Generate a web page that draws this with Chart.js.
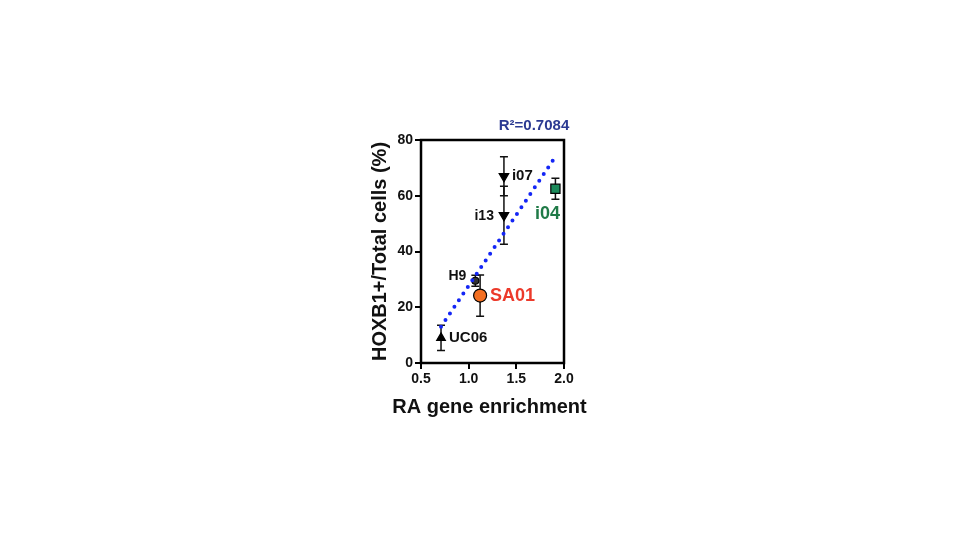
<!DOCTYPE html>
<html>
<head>
<meta charset="utf-8">
<script src="https://cdn.jsdelivr.net/npm/chart.js@4.4.1/dist/chart.umd.min.js"></script>
<style>
  html, body { margin: 0; padding: 0; background: #fff; }
  #wrap { width: 960px; height: 540px; }
</style>
</head>
<body>
<div id="wrap"><canvas id="c" width="960" height="540"></canvas></div>
<script>
// cell lines and their values
const cellLines = ['UC06', 'H9', 'SA01', 'i13', 'i07', 'i04'];
const enrichment = [0.71, 1.07, 1.12, 1.37, 1.37, 1.91];
const hoxb1 = [9, 29.5, 24.2, 53, 67, 62.5];
const hoxb1Err = [4.5, 2, 7.4, 10.4, 7, 3.8];

// linear fit end points
const fitX = [0.71, 1.91];
const fitY = [13, 74];
const rSquared = '0.7084';

const xTicks = [0.5, 1.0, 1.5, 2.0];
const yTicks = [0, 20, 40, 60, 80];

// look of each point / label (not data)
const markerStyle = ['triangle', 'circle', 'circle', 'triangle', 'triangle', 'rect'];
const markerRot = [0, 0, 0, 180, 180, 0];
const markerSize = [5, 3.5, 6.5, 5.5, 5.5, 6.5];
const markerFill = ['#000', '#333', '#f36f21', '#000', '#000', '#1b8a5a'];
const labelColor = ['#111', '#111', '#ec3a2b', '#111', '#111', '#1f7a47'];
const labelSize = [15, 14, 18, 14, 15, 18];
const labelAlign = ['left', 'right', 'left', 'right', 'left', 'center'];
const labelDx = [8, -9, 10, -10, 8, -8];
const labelDy = [0, -5, 0, 1, 0, 25];

const FONT = '"Liberation Sans", Arial, Helvetica, sans-serif';

const extras = {
  id: 'extras',
  beforeDatasetsDraw(chart) {
    const { ctx, scales: { x, y } } = chart;
    ctx.save();
    ctx.strokeStyle = '#111';
    ctx.lineWidth = 1.5;
    enrichment.forEach((v, i) => {
      const px = x.getPixelForValue(v);
      const top = y.getPixelForValue(hoxb1[i] + hoxb1Err[i]);
      const bot = y.getPixelForValue(hoxb1[i] - hoxb1Err[i]);
      ctx.beginPath();
      ctx.moveTo(px, top); ctx.lineTo(px, bot);
      ctx.moveTo(px - 4, top); ctx.lineTo(px + 4, top);
      ctx.moveTo(px - 4, bot); ctx.lineTo(px + 4, bot);
      ctx.stroke();
    });
    ctx.restore();
  },
  afterDraw(chart) {
    const { ctx, chartArea: a, scales: { x, y } } = chart;
    ctx.save();
    ctx.strokeStyle = '#000';
    ctx.lineWidth = 2.5;
    ctx.strokeRect(a.left, a.top, a.right - a.left, a.bottom - a.top);

    ctx.textBaseline = 'middle';
    cellLines.forEach((name, i) => {
      ctx.font = 'bold ' + labelSize[i] + 'px ' + FONT;
      ctx.fillStyle = labelColor[i];
      ctx.textAlign = labelAlign[i];
      ctx.fillText(name,
        x.getPixelForValue(enrichment[i]) + labelDx[i],
        y.getPixelForValue(hoxb1[i]) + labelDy[i]);
    });

    // x axis title, drawn here so it is not squeezed to the narrow plot width
    ctx.font = 'bold 20px ' + FONT;
    ctx.fillStyle = '#111';
    ctx.textAlign = 'center';
    ctx.fillText('RA gene enrichment', (a.left + a.right) / 2 - 3, a.bottom + 44);

    ctx.font = 'bold 15px ' + FONT;
    ctx.fillStyle = '#2b3a92';
    ctx.fillText('R\u00b2=' + rSquared, a.right - 30, a.top - 14);
    ctx.restore();
  }
};

new Chart(document.getElementById('c').getContext('2d'), {
  type: 'scatter',
  data: {
    datasets: [{
      type: 'line',
      data: fitX.map((v, i) => ({ x: v, y: fitY[i] })),
      borderColor: '#1426f5',
      borderWidth: 4,
      borderDash: [0, 8],
      borderCapStyle: 'round',
      pointRadius: 0,
      fill: false
    }, {
      data: enrichment.map((v, i) => ({ x: v, y: hoxb1[i] })),
      pointStyle: markerStyle,
      rotation: markerRot,
      pointRadius: markerSize,
      backgroundColor: markerFill,
      borderColor: '#000',
      borderWidth: 1.2
    }]
  },
  options: {
    responsive: false,
    animation: false,
    layout: { padding: { left: 361, right: 396, top: 140, bottom: 122 } },
    plugins: { legend: { display: false }, tooltip: { enabled: false } },
    scales: {
      x: {
        type: 'linear',
        min: 0.5, max: 2.0,
        afterFit: s => { s.height = 55; },
        afterBuildTicks: s => { s.ticks = xTicks.map(v => ({ value: v })); },
        border: { display: false },
        grid: { drawOnChartArea: false, drawTicks: true, tickLength: 6, color: '#000', lineWidth: 2 },
        ticks: { color: '#111', padding: 2, font: { family: FONT, size: 14, weight: 'bold' }, callback: v => v.toFixed(1) }
      },
      y: {
        type: 'linear',
        min: 0, max: 80,
        afterFit: s => { s.width = 60; },
        afterBuildTicks: s => { s.ticks = yTicks.map(v => ({ value: v })); },
        border: { display: false },
        grid: { drawOnChartArea: false, drawTicks: true, tickLength: 6, color: '#000', lineWidth: 2 },
        ticks: { color: '#111', padding: 2, font: { family: FONT, size: 14, weight: 'bold' } },
        title: { display: true, text: 'HOXB1+/Total cells (%)', color: '#111', padding: { top: 7, bottom: 0 }, font: { family: FONT, size: 20, weight: 'bold' } }
      }
    }
  },
  plugins: [extras]
});
</script>
</body>
</html>
